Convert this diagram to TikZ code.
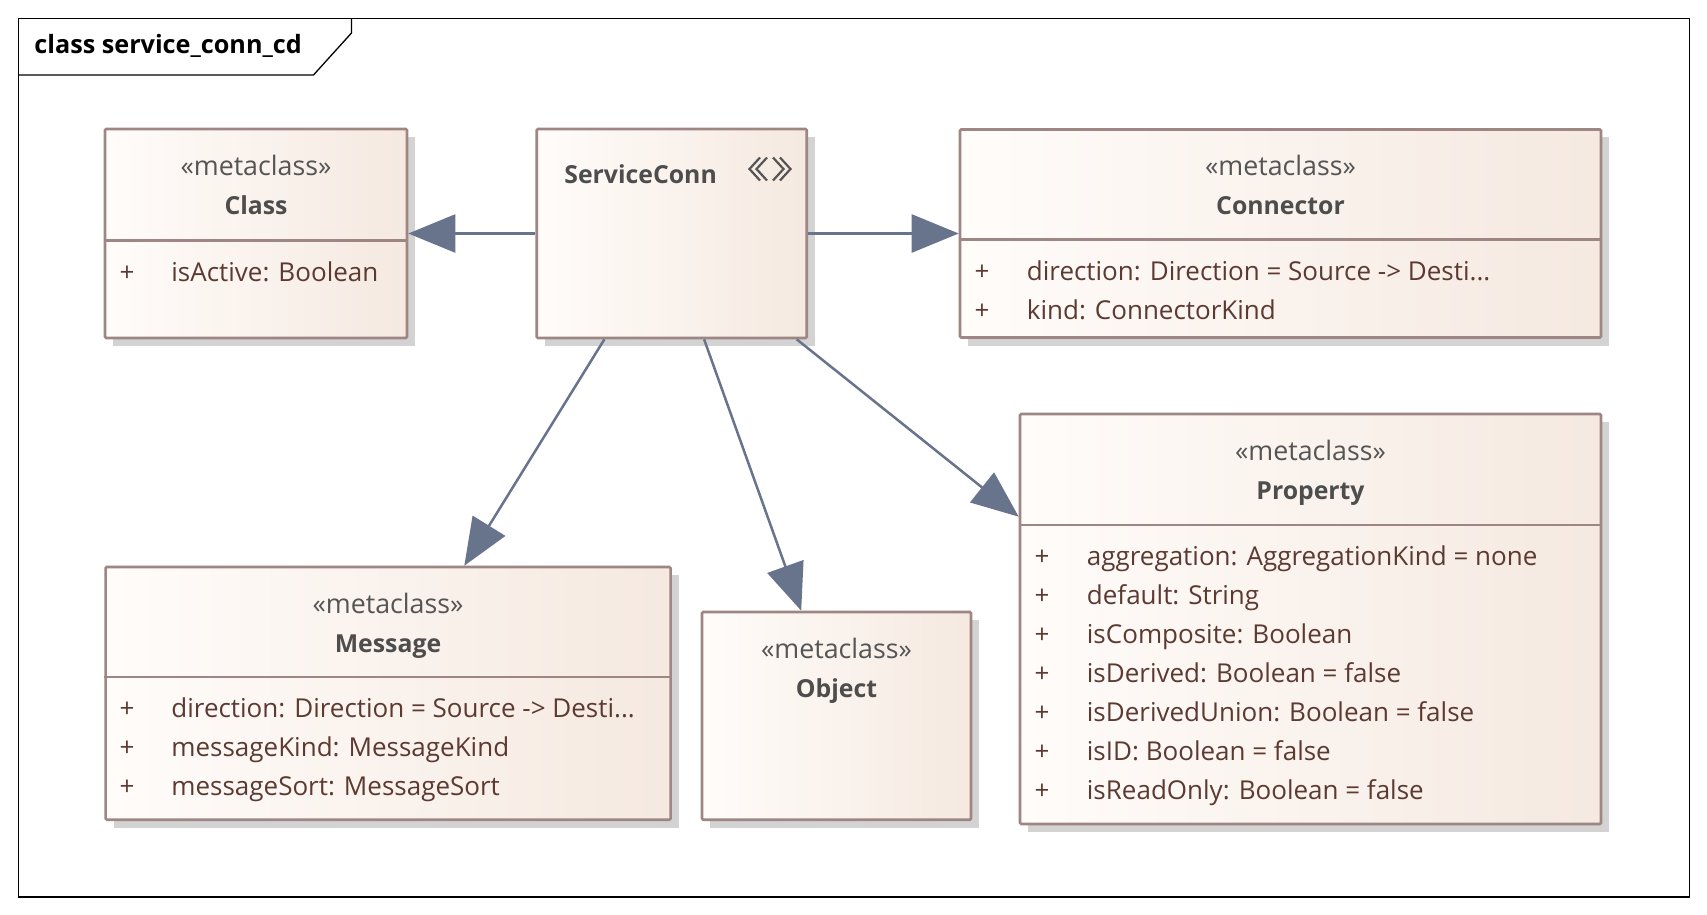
\documentclass[tikz,border=0pt]{standalone}
\usepackage{fontspec}
\setmainfont{Open Sans}
\usetikzlibrary{arrows.meta,calc,fit}
\definecolor{bord}{RGB}{158,134,132}
\definecolor{fillL}{RGB}{255,252,250}
\definecolor{fillR}{RGB}{245,233,224}
\definecolor{shadowc}{RGB}{211,211,211}
\definecolor{arrc}{RGB}{104,115,140}
\definecolor{namec}{RGB}{77,77,77}
\definecolor{stereoc}{RGB}{85,85,85}
\definecolor{attrc}{RGB}{92,58,50}
\tikzset{
  umlbox/.style={draw=bord, line width=1.3pt, left color=fillL, right color=fillR, inner sep=0pt, rounded corners=0.6pt},
  divider/.style={draw=bord, line width=1.3pt},
  shadowbox/.style={fill=shadowc},
  stereo/.style={anchor=base, text=stereoc, font=\fontsize{13.4pt}{16pt}\selectfont, inner sep=0pt},
  cname/.style={anchor=base, text=namec, font=\fontsize{12.4pt}{15pt}\selectfont\bfseries, inner sep=0pt},
  attr/.style={anchor=base west, text=attrc, font=\fontsize{13pt}{16pt}\selectfont, inner sep=0pt},
  vis/.style={anchor=base, text=attrc, font=\fontsize{13pt}{16pt}\selectfont, inner sep=0pt},
  arr/.style={draw=arrc, line width=1.25pt, -{Triangle[length=23.5pt,width=19pt]}},
}
\begin{document}
\begin{tikzpicture}[x=0.5pt,y=-0.5pt]
\useasboundingbox (0,0) rectangle (1707,915);
\fill[white] (0,0) rectangle (1707,915);
% frame
\draw[black, line width=0.65pt] (18.5,18.5) rectangle (1689.5,897);
\draw[black, line width=0.65pt] (18.5,75) -- (313.5,75) -- (351.5,33) -- (351.5,18.5);
\node[anchor=base west, inner sep=0pt, font=\fontsize{12.6pt}{15pt}\selectfont\bfseries] (title) at (34,54) {class service\_conn\_cd};

% shadows
\fill[shadowc] (113,137) rectangle (415,346);
\fill[shadowc] (545,137) rectangle (815,346);
\fill[shadowc] (968,137.5) rectangle (1609,345.5);
\fill[shadowc] (1028,422) rectangle (1609,832);
\fill[shadowc] (113.6,575) rectangle (678.6,827.7);
\fill[shadowc] (710,620) rectangle (979,827.7);

% boxes
\node[umlbox, fit={(105,129)(407,338)}] (cls) {};
\node[umlbox, fit={(536.7,129)(806.7,338)}] (sc) {};
\node[umlbox, fit={(960,129.5)(1601,337.5)}] (con) {};
\node[umlbox, fit={(1020,414)(1601,824)}] (prop) {};
\node[umlbox, fit={(105.6,567)(670.6,819.7)}] (msg) {};
\node[umlbox, fit={(702,612)(971,819.7)}] (obj) {};

% dividers
\draw[divider] (cls.west |- 0,240.7) -- (cls.east |- 0,240.7);
\draw[divider] (con.west |- 0,239.5) -- (con.east |- 0,239.5);
\draw[divider] (prop.west |- 0,525) -- (prop.east |- 0,525);
\draw[divider] (msg.west |- 0,677) -- (msg.east |- 0,677);

% Class
\node[stereo] (clsS) at (256,175) {«metaclass»};
\node[cname] (clsN) at (256,214) {Class};
\node[vis] (clsV1) at (127,281) {+};
\node[attr] (clsA1) at (171,281) {isActive: Boolean};

% ServiceConn
\node[cname, anchor=base west] (scN) at (564,184) {ServiceConn};
\draw[stereoc, line width=1.1pt] (760,157.5) -- (749.5,169) -- (760,180.5);
\draw[stereoc, line width=1.1pt] (767,157.5) -- (756.5,169) -- (767,180.5);
\draw[stereoc, line width=1.1pt] (773,157.5) -- (783.5,169) -- (773,180.5);
\draw[stereoc, line width=1.1pt] (780,157.5) -- (790.5,169) -- (780,180.5);

% Connector
\node[stereo] (conS) at (1280.5,175) {«metaclass»};
\node[cname] (conN) at (1280.5,214) {Connector};
\node[vis] (conV1) at (982,280) {+};
\node[attr] (conA1) at (1026.5,280) {direction: Direction = Source -> Desti...};
\node[vis] (conV2) at (982,319) {+};
\node[attr] (conA2) at (1026.5,319) {kind: ConnectorKind};

% Property
\node[stereo] (propS) at (1310.5,460) {«metaclass»};
\node[cname] (propN) at (1310.5,499) {Property};
\foreach \t [count=\i from 0] in {aggregation: AggregationKind = none, default: String, isComposite: Boolean, isDerived: Boolean = false, isDerivedUnion: Boolean = false, isID: Boolean = false, isReadOnly: Boolean = false}{
  \node[vis] (propV\i) at (1042,565+39*\i) {+};
  \node[attr] (propA\i) at (1086.5,565+39*\i) {\t};
}

% Message
\node[stereo] (msgS) at (388,613) {«metaclass»};
\node[cname] (msgN) at (388,652) {Message};
\node[vis] (msgV1) at (127,717) {+};
\node[attr] (msgA1) at (171,717) {direction: Direction = Source -> Desti...};
\node[vis] (msgV2) at (127,756) {+};
\node[attr] (msgA2) at (171,756) {messageKind: MessageKind};
\node[vis] (msgV3) at (127,795) {+};
\node[attr] (msgA3) at (171,795) {messageSort: MessageSort};

% Object
\node[stereo] (objS) at (836.5,658) {«metaclass»};
\node[cname] (objN) at (836.5,697) {Object};

% connectors
\draw[arr] (sc.west) -- (cls.east);
\draw[arr] (sc.east) -- (con.west);
\draw[arr] ($(sc.south west)+(69,0)$) -- ($(msg.north west)+(360,0)$);
\draw[arr] ($(sc.south west)+(168.7,0)$) -- ($(obj.north west)+(100.5,0)$);
\draw[arr] ($(sc.south west)+(261.3,0)$) -- ($(prop.north west)+(0,104)$);
\end{tikzpicture}
\end{document}
